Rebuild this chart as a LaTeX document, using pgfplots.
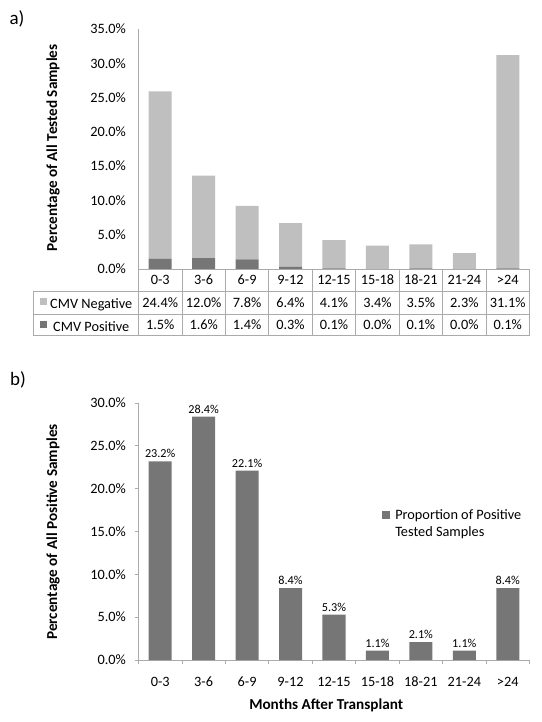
\documentclass[border=0pt]{standalone}
\usepackage{fontspec}
\setmainfont{Carlito}
\usepackage{pgfplots}
\pgfplotsset{compat=1.18}
\usepackage{pgfplotstable}

\definecolor{neggray}{RGB}{191,191,191}
\definecolor{posgray}{RGB}{118,118,118}
\definecolor{linegray}{RGB}{170,170,170}

\pgfplotstableread{
x neg pos
0 24.4 1.5
1 12.0 1.6
2 7.8 1.4
3 6.4 0.3
4 4.1 0.1
5 3.4 0.0
6 3.5 0.1
7 2.3 0.0
8 31.1 0.1
}\dataA

\pgfplotstableread{
x val
0 23.2
1 28.4
2 22.1
3 8.4
4 5.3
5 1.1
6 2.1
7 1.1
8 8.4
}\dataB

\newcommand{\tfont}{\fontsize{14.3}{17}\selectfont}
\newcommand{\lfont}{\fontsize{15.2}{18}\selectfont\bfseries}

\pgfplotsset{
  sqA/.style={legend image code/.code={\fill[##1] (0pt,-0.5pt) rectangle (6.5pt,7pt);}},
  sqB/.style={legend image code/.code={\fill[##1] (0pt,4pt) rectangle (8pt,12pt);}},
  common/.style={
    scale only axis, width=391pt, xmin=-0.5, xmax=8.5, ymin=0, anchor=south west,
    axis x line=bottom, axis y line=left,
    axis line style={linegray, -, line width=0.8pt},
    tick label style={font=\tfont},
    /pgf/number format/assume math mode=true,
    xtick={0,...,8},
    xticklabels={0-3,3-6,6-9,9-12,12-15,15-18,18-21,21-24,{>24}},
    yticklabel={\pgfmathprintnumber[fixed,fixed zerofill,precision=1]{\tick}\%},
    clip=false,
    label style={font=\lfont},
  },
}

\begin{document}
\begin{tikzpicture}
\path[use as bounding box] (0pt,0pt) rectangle (541pt,722pt);

% ---------- panel a ----------
\begin{axis}[common, at={(138.5pt,453pt)}, height=240pt, ymax=35, ytick={0,5,...,35},
  ybar stacked, bar width=0.53, major tick length=0pt,
  xticklabel style={anchor=center, yshift=-11pt},
  yticklabel style={xshift=-9pt},
  ylabel={Percentage of All Tested Samples},
  ylabel style={at={(axis description cs:-0.2187,0.505)}, anchor=center},
  reverse legend,
  legend style={at={(axis description cs:-0.2519,-0.195)}, anchor=west, draw=none, fill=none,
    font=\tfont, inner sep=0pt, column sep=3.5pt, row sep=10pt,
    nodes={inner sep=0pt, text height=9.5pt, text depth=2.5pt}},
  ]
\addplot[fill=posgray, draw=none, sqA] table[x=x,y=pos]{\dataA};
\addplot[fill=neggray, draw=none, sqA] table[x=x,y=neg]{\dataA};
\legend{CMV Positive, CMV Negative}
\end{axis}

% table values of panel a
\begin{axis}[scale only axis, width=391pt, height=240pt, at={(138.5pt,453pt)}, anchor=south west,
  xmin=-0.5, xmax=8.5, ymin=0, ymax=35, hide axis, clip=false,
  /pgf/number format/assume math mode=true,
  nodes near coords={\pgfmathprintnumber[fixed,fixed zerofill,precision=1]{\pgfplotspointmeta}\%},
  every node near coord/.append style={anchor=center, font=\tfont, inner sep=0pt},
  ]
\addplot[draw=none, mark=none, point meta=explicit] table[x=x, y expr=-4.885, meta=neg]{\dataA};
\addplot[draw=none, mark=none, point meta=explicit] table[x=x, y expr=-8.09, meta=pos]{\dataA};
\end{axis}

\begin{scope}[linegray, line width=0.8pt]
\draw (33pt,431pt) -- (529.5pt,431pt);
\draw (33pt,408pt) -- (529.5pt,408pt);
\draw (33pt,387pt) -- (529.5pt,387pt);
\draw (33pt,431pt) -- (33pt,387pt);
\foreach \k in {0,...,9} {\draw ({138.5pt+43.444pt*\k},453pt) -- ({138.5pt+43.444pt*\k},387pt);}
\end{scope}

\node[font=\fontsize{19}{21}\selectfont] at (17pt,703pt) {a)};

% ---------- panel b ----------
\begin{axis}[common, at={(138.5pt,62pt)}, height=257pt, ymax=30, ytick={0,5,...,30},
  ybar, bar width=0.53, tick align=outside, major tick length=4pt,
  ytick style={linegray, line width=0.8pt},
  major x tick style={draw=none},
  minor xtick={-0.5,0.5,...,8.5}, minor tick length=4pt,
  minor x tick style={linegray, line width=0.8pt},
  xticklabel style={anchor=center, yshift=-18pt},
  yticklabel style={xshift=-5pt},
  ylabel={Percentage of All Positive Samples},
  ylabel style={at={(axis description cs:-0.2187,0.498)}, anchor=center},
  xlabel={Months After Transplant},
  xlabel style={at={(axis description cs:0.48,-0.175)}, anchor=center},
  nodes near coords={\pgfmathprintnumber[fixed,fixed zerofill,precision=1]{\pgfplotspointmeta}\%},
  every node near coord/.append style={font=\fontsize{12.2}{14}\selectfont, anchor=south, inner sep=3pt},
  legend style={at={(axis description cs:0.623,0.595)}, anchor=north west, draw=none, fill=none,
    font=\tfont, cells={align=left}, inner sep=0pt, column sep=3pt},
  ]
\addplot[fill=posgray, draw=none, sqB] table[x=x,y=val]{\dataB};
\legend{{Proportion of Positive\\Tested Samples}}
\end{axis}

\node[font=\fontsize{19}{21}\selectfont] at (18pt,342pt) {b)};
\end{tikzpicture}
\end{document}
